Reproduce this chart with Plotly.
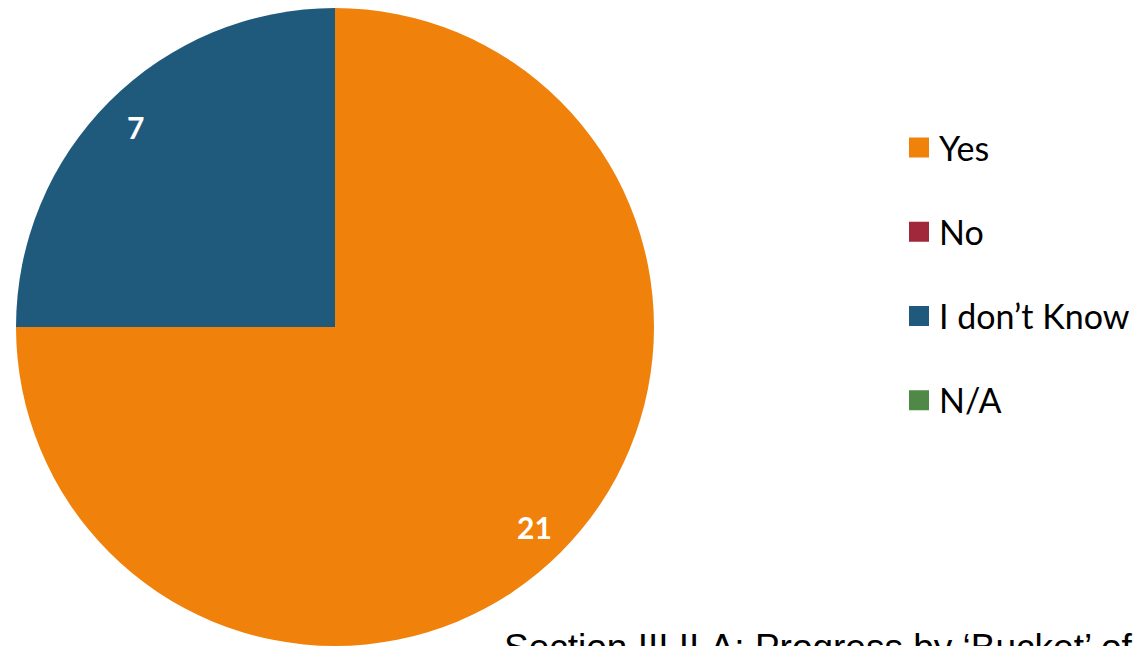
import math
import plotly.graph_objects as go

categories = ["Yes", "No", "I don\u2019t Know", "N/A"]
values = [21, 0, 7, 0]
colors = ["#F0820B", "#A0283A", "#1F5A7D", "#508947"]
footer_text = "Section III.II.A: Progress by \u2018Bucket\u2019 of Recommendations"

W, H = 1139, 646
mt, mb = 8, 0
dom_x = [16 / W, 654 / W]
dom_y = [0, 1]

fig = go.Figure()
fig.add_trace(go.Pie(
    labels=categories, values=values, sort=False, direction="clockwise",
    rotation=0, marker=dict(colors=colors, line=dict(width=0)),
    textinfo="none", hoverinfo="label+value", showlegend=False,
    domain=dict(x=dom_x, y=dom_y),
))

# legend entries
for i, (c, col) in enumerate(zip(categories, colors)):
    fig.add_trace(go.Scatter(
        x=[None], y=[None], mode="markers", name=c, legendgroup=f"g{i}",
        marker=dict(symbol="square", size=16, color=col, line=dict(color=col, width=4)),
    ))

# value labels computed from data
total = sum(values)
plot_h = H - mt - mb
cx_px = (dom_x[0] + dom_x[1]) / 2 * W
cy_px = mt + plot_h / 2
r_px = min((dom_x[1] - dom_x[0]) * W, plot_h) / 2
k = 0.885
cum = 0
for v in values:
    if v > 0:
        mid = (cum + v / 2) / total * 2 * math.pi
        xp = cx_px + k * r_px * math.sin(mid)
        yp = cy_px - k * r_px * math.cos(mid)
        fig.add_annotation(x=xp / W, y=(H - mb - yp) / plot_h, xref="paper", yref="paper",
                           xanchor="center", yanchor="middle",
                           text=f"<b>{v}</b>", showarrow=False,
                           font=dict(family="Lato", size=30, color="white"))
    cum += v

fig.add_annotation(x=502 / W, y=(H - mb - 625) / plot_h, xref="paper", yref="paper",
                   xanchor="left", yanchor="top", text=footer_text, showarrow=False,
                   font=dict(family="Liberation Sans, Arial", size=37, color="black"))

fig.update_layout(
    width=W, height=H, margin=dict(l=0, r=0, t=mt, b=mb),
    paper_bgcolor="white", plot_bgcolor="white",
    xaxis=dict(visible=False), yaxis=dict(visible=False),
    legend=dict(x=899 / W, xanchor="left", y=(H - mb - 119) / plot_h, yanchor="top",
                font=dict(family="Lato", size=34, color="black"),
                tracegroupgap=37, bgcolor="rgba(0,0,0,0)"),
)
fig.write_html("out.html")
